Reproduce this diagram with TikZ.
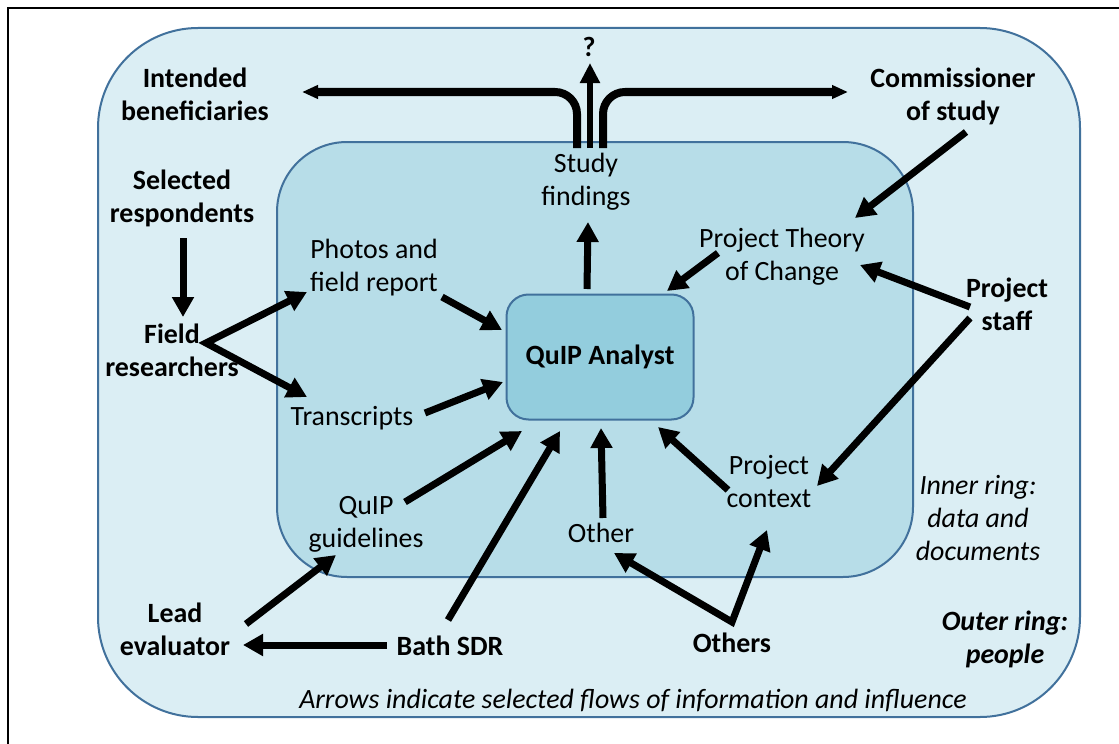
\documentclass[tikz,border=0pt]{standalone}
\usepackage{fontspec}
\setmainfont{Carlito}
\usetikzlibrary{arrows.meta}
\definecolor{outerfill}{HTML}{DBEEF4}
\definecolor{innerfill}{HTML}{B7DDE8}
\definecolor{analystfill}{HTML}{93CDDD}
\definecolor{ringline}{HTML}{41719C}
\tikzset{
  ring/.style={draw=ringline, line width=2bp},
  lbl/.style={inner sep=0pt, align=center, anchor=base, font=\fontsize{28}{33}\selectfont},
  blbl/.style={lbl, font=\fontsize{28}{33}\selectfont\bfseries},
  ilbl/.style={lbl, font=\fontsize{28}{33}\selectfont\itshape},
  bilbl/.style={lbl, font=\fontsize{28}{33}\selectfont\bfseries\itshape},
  flow/.style={line width=7bp, -{Triangle[width=21bp,length=20bp]}},
  flowtwo/.style={line width=7bp, miter limit=20, {Triangle[width=21bp,length=20bp]}-{Triangle[width=21bp,length=20bp]}},
  branch/.style={line width=8bp, rounded corners=22bp, -{Triangle[width=13bp,length=16bp]}},
  query/.style={line width=6bp, -{Triangle[width=19bp,length=20bp]}}
}
\begin{document}
\begin{tikzpicture}[x=1bp,y=-1bp]
\useasboundingbox (0,0) rectangle (1119,744);
\fill[white] (0,0) rectangle (1119,744);
% frame
\draw[line width=2bp] (8,744) -- (8,8) -- (1119,8);
% rings
\draw[ring, fill=outerfill, rounded corners=100bp] (98,28) rectangle (1080,717);
\draw[ring, fill=innerfill, rounded corners=70bp] (277,142) rectangle (913,577);
\node[ring, fill=analystfill, rounded corners=22bp, minimum width=187bp, minimum height=125bp, font=\fontsize{28}{33}\selectfont\bfseries, inner sep=0pt] (quip) at (600,357) {QuIP Analyst};

% labels (anchor = baseline of the last line)
\node[blbl] (benef) at (195,120) {Intended\\beneficiaries};
\node[blbl] (comm) at (953,120) {Commissioner\\of study};
\node[blbl] (q) at (589,57) {?};
\node[blbl] (resp) at (182,222) {Selected\\respondents};
\node[blbl] (field) at (172,376) {Field\\researchers};
\node[lbl] (photos) at (374,291) {Photos and\\field report};
\node[lbl] (trans) at (352,425) {Transcripts};
\node[lbl] (find) at (586,205) {Study\\findings};
\node[lbl] (toc) at (782,280) {Project Theory\\of Change};
\node[blbl] (staff) at (1007,330) {Project\\staff};
\node[lbl] (guide) at (366,547) {QuIP\\guidelines};
\node[lbl] (other) at (601,542) {Other};
\node[lbl] (ctx) at (769,507) {Project\\context};
\node[ilbl] (inner) at (978,560) {Inner ring:\\data and\\documents};
\node[blbl] (lead) at (175,655) {Lead\\evaluator};
\node[blbl] (bath) at (450,655) {Bath SDR};
\node[blbl] (others) at (732,652) {Others};
\node[bilbl] (outer) at (1005,663) {Outer ring:\\people};
\node[ilbl] (note) at (633,708) {Arrows indicate selected flows of information and influence};

% connector end points
\coordinate (respS) at (183,238);  \coordinate (fieldT) at (183,317);
\coordinate (fieldC) at (206,343);
\coordinate (photosT) at (307,292); \coordinate (transT) at (307,397);
\coordinate (photosS) at (442,297); \coordinate (quipA) at (502,330);
\coordinate (transS) at (425,413);  \coordinate (quipB) at (503,382);
\coordinate (quipC) at (587,289);   \coordinate (findT) at (588,222);
\coordinate (commS) at (966,132);   \coordinate (tocA) at (855,218);
\coordinate (tocS) at (718,253);    \coordinate (quipD) at (667,291);
\coordinate (staffA) at (970,307);  \coordinate (tocB) at (860,265);
\coordinate (staffB) at (970,318);  \coordinate (ctxT) at (817,486);
\coordinate (ctxS) at (728,490);    \coordinate (quipE) at (658,427);
\coordinate (otherS) at (603,518);  \coordinate (quipF) at (601,428);
\coordinate (guideS) at (405,502);  \coordinate (quipG) at (522,431);
\coordinate (bathA) at (448,620);   \coordinate (quipH) at (560,431);
\coordinate (leadS) at (246,624);   \coordinate (guideT) at (336,555);
\coordinate (bathB) at (387,645);   \coordinate (leadT) at (243,645);
\coordinate (othersC) at (732,622); \coordinate (otherT) at (614,553);
\coordinate (ctxB) at (767,530);
\coordinate (findL) at (577,148);   \coordinate (benefT) at (302,92);
\coordinate (findR) at (603,148);   \coordinate (commT) at (848,92);
\coordinate (findM) at (590,148);   \coordinate (qT) at (590,63);

% connectors
\draw[flow] (respS) -- (fieldT);
\draw[flowtwo] (photosT) -- (fieldC) -- (transT);
\draw[flow] (photosS) -- (quipA);
\draw[flow] (transS) -- (quipB);
\draw[flow] (quipC) -- (findT);
\draw[flow] (commS) -- (tocA);
\draw[flow] (tocS) -- (quipD);
\draw[flow] (staffA) -- (tocB);
\draw[flow] (staffB) -- (ctxT);
\draw[flow] (ctxS) -- (quipE);
\draw[flow] (otherS) -- (quipF);
\draw[flow] (guideS) -- (quipG);
\draw[flow] (bathA) -- (quipH);
\draw[flow] (leadS) -- (guideT);
\draw[flow] (bathB) -- (leadT);
\draw[flowtwo] (otherT) -- (othersC) -- (ctxB);
\draw[branch] (findL) -- (findL |- benefT) -- (benefT);
\draw[branch] (findR) -- (findR |- commT) -- (commT);
\draw[query] (findM) -- (qT);
\end{tikzpicture}
\end{document}
